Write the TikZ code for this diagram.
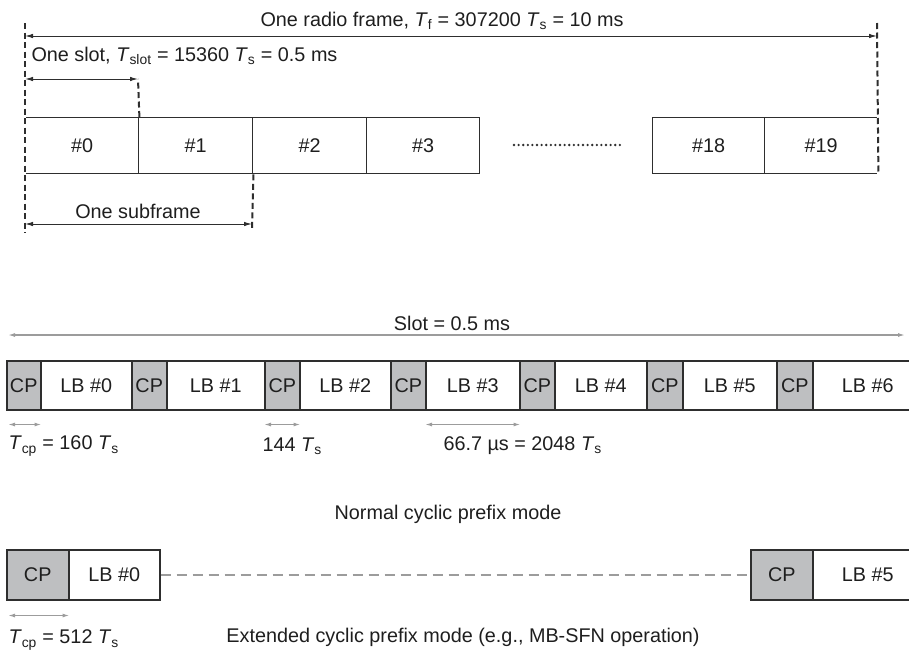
\documentclass[tikz,border=0pt]{standalone}
\usepackage{fontspec}
\setmainfont{Liberation Sans}
\usetikzlibrary{arrows.meta}
\definecolor{cpgray}{HTML}{BEBFC1}
\definecolor{arrgray}{HTML}{9C9C9C}
\definecolor{linegray}{HTML}{2E2E2E}
\definecolor{txt}{HTML}{1E1E1E}
\newcommand{\Tsym}{\textit{T}\textsubscript{s}}
\begin{document}
\begin{tikzpicture}[x=1pt,y=-1pt,
  every node/.style={font=\fontsize{19.8}{24}\selectfont, text=txt},
  frbox/.style={draw=linegray, line width=1.4pt, minimum height=56pt, inner sep=0pt, anchor=north west, text height=14pt, text depth=0pt},
  cpbox/.style={draw=linegray, line width=1.5pt, fill=cpgray, minimum height=49pt, inner sep=0pt, anchor=north west, text height=14pt, text depth=0pt},
  lbbox/.style={draw=linegray, line width=1.5pt, fill=white, minimum height=49pt, inner sep=0pt, anchor=north west, text height=14pt, text depth=0pt},
  ecpbox/.style={cpbox, minimum height=50pt},
  elbbox/.style={lbbox, minimum height=50pt},
  dashv/.style={draw=linegray, line width=2pt, dash pattern=on 6pt off 3.5pt},
  dimarrow/.style={draw=linegray, line width=1pt, {Latex[length=8pt,width=4.5pt]}-{Latex[length=8pt,width=4.5pt]}},
  grayarrow/.style={draw=arrgray, line width=1.3pt, {Latex[length=7pt,width=4pt]}-{Latex[length=7pt,width=4pt]}},
  dotline/.style={draw=linegray, line width=2.6pt, line cap=round, dash pattern=on 0pt off 4.6pt},
  graydash/.style={draw=arrgray, line width=2pt, dash pattern=on 10pt off 6pt}]
\useasboundingbox (0,0) rectangle (909,654);

% ---- radio frame ----
\node[frbox, minimum width=113pt] (s0) at (25,117) {\#0};
\node[frbox, minimum width=114pt] (s1) at (138,117) {\#1};
\node[frbox, minimum width=114pt] (s2) at (252,117) {\#2};
\node[frbox, minimum width=113pt] (s3) at (366,117) {\#3};
\node[frbox, minimum width=112pt] (s18) at (652,117) {\#18};
\node[frbox, minimum width=113pt] (s19) at (764,117) {\#19};

\coordinate (dotL) at (514,145);
\coordinate (dotR) at (621,145);
\draw[dotline] (dotL) -- (dotR);

\coordinate (leftTop) at (25,23);
\coordinate (leftBot) at (25,233);
\coordinate (rightTop) at (877,23);
\coordinate (slotTop) at (138,79);
\coordinate (subBot) at (252,230);
\draw[white, line width=2.2pt] (s0.north west) -- (s0.south west);
\draw[white, line width=2.2pt] (s19.north east) -- (s19.south east);
\draw[dashv] (leftTop) -- (leftBot);
\draw[dashv] (rightTop) -- (s19.south east);
\draw[dashv] (s0.north east) -- (slotTop);
\draw[dashv] (s1.south east) -- (subBot);

\coordinate (rfL) at (25,36);
\coordinate (rfR) at (877,36);
\draw[dimarrow] (rfL) -- (rfR);
\coordinate (slL) at (25,79);
\draw[dimarrow] (slL) -- (slotTop);
\coordinate (sfL) at (25,224);
\coordinate (sfR) at (252,224);
\draw[dimarrow] (sfL) -- (sfR);

\node (rftext) at (442,21) {One radio frame, \textit{T}\textsubscript{f} = 307200 \Tsym{} = 10 ms};
\node[anchor=west] (slottext) at (28,56) {One slot, \textit{T}\textsubscript{slot} = 15360 \Tsym{} = 0.5 ms};
\node (subtext) at (138,211) {One subframe};

% ---- normal CP slot ----
\node (slotlen) at (452,323) {Slot = 0.5 ms};
\coordinate (nsL) at (8,335);
\coordinate (nsR) at (905,335);
\draw[grayarrow] (nsL) -- (nsR);

\node[cpbox, minimum width=34pt] (c0) at (6,360) {CP};
\node[lbbox, minimum width=91pt] (l0) at (40,360) {LB \#0};
\node[cpbox, minimum width=35pt] (c1) at (131,360) {CP};
\node[lbbox, minimum width=98pt] (l1) at (166,360) {LB \#1};
\node[cpbox, minimum width=35pt] (c2) at (264,360) {CP};
\node[lbbox, minimum width=91pt] (l2) at (299,360) {LB \#2};
\node[cpbox, minimum width=35pt] (c3) at (390,360) {CP};
\node[lbbox, minimum width=94pt] (l3) at (425,360) {LB \#3};
\node[cpbox, minimum width=35pt] (c4) at (519,360) {CP};
\node[lbbox, minimum width=92pt] (l4) at (554,360) {LB \#4};
\node[cpbox, minimum width=36pt] (c5) at (646,360) {CP};
\node[lbbox, minimum width=94pt] (l5) at (682,360) {LB \#5};
\node[cpbox, minimum width=36pt] (c6) at (776,360) {CP};
\node[lbbox, minimum width=110pt] (l6) at (812,360) {LB \#6};

\draw[grayarrow] ([xshift=2pt,yshift=-14pt]c0.south west) -- ([yshift=-14pt]c0.south east);
\draw[grayarrow] ([yshift=-14pt]c2.south west) -- ([yshift=-14pt]c2.south east);
\draw[grayarrow] ([yshift=-14pt]l3.south west) -- ([yshift=-14pt]l3.south east);

\node[anchor=west] (tcp1) at (5,446) {\textit{T}\textsubscript{cp} = 160 \Tsym};
\node[anchor=west] (t144) at (259,446) {144 \Tsym};
\node[anchor=west] (t667) at (440,446) {66.7 µs = 2048 \Tsym};

\node (normal) at (448,514) {Normal cyclic prefix mode};

% ---- extended CP ----
\node[ecpbox, minimum width=62pt] (ec0) at (6,549) {CP};
\node[elbbox, minimum width=91pt] (el0) at (68,549) {LB \#0};
\node[ecpbox, minimum width=62pt] (ec5) at (750,549) {CP};
\node[elbbox, minimum width=110pt] (el5) at (812,549) {LB \#5};
\draw[graydash] (el0.east) -- (ec5.west);
\draw[grayarrow] ([xshift=2pt,yshift=-15pt]ec0.south west) -- ([yshift=-15pt]ec0.south east);

\node[anchor=west] (tcp2) at (5,640) {\textit{T}\textsubscript{cp} = 512 \Tsym};
\node (ext) at (463,637) {Extended cyclic prefix mode (e.g., MB-SFN operation)};
\end{tikzpicture}
\end{document}
